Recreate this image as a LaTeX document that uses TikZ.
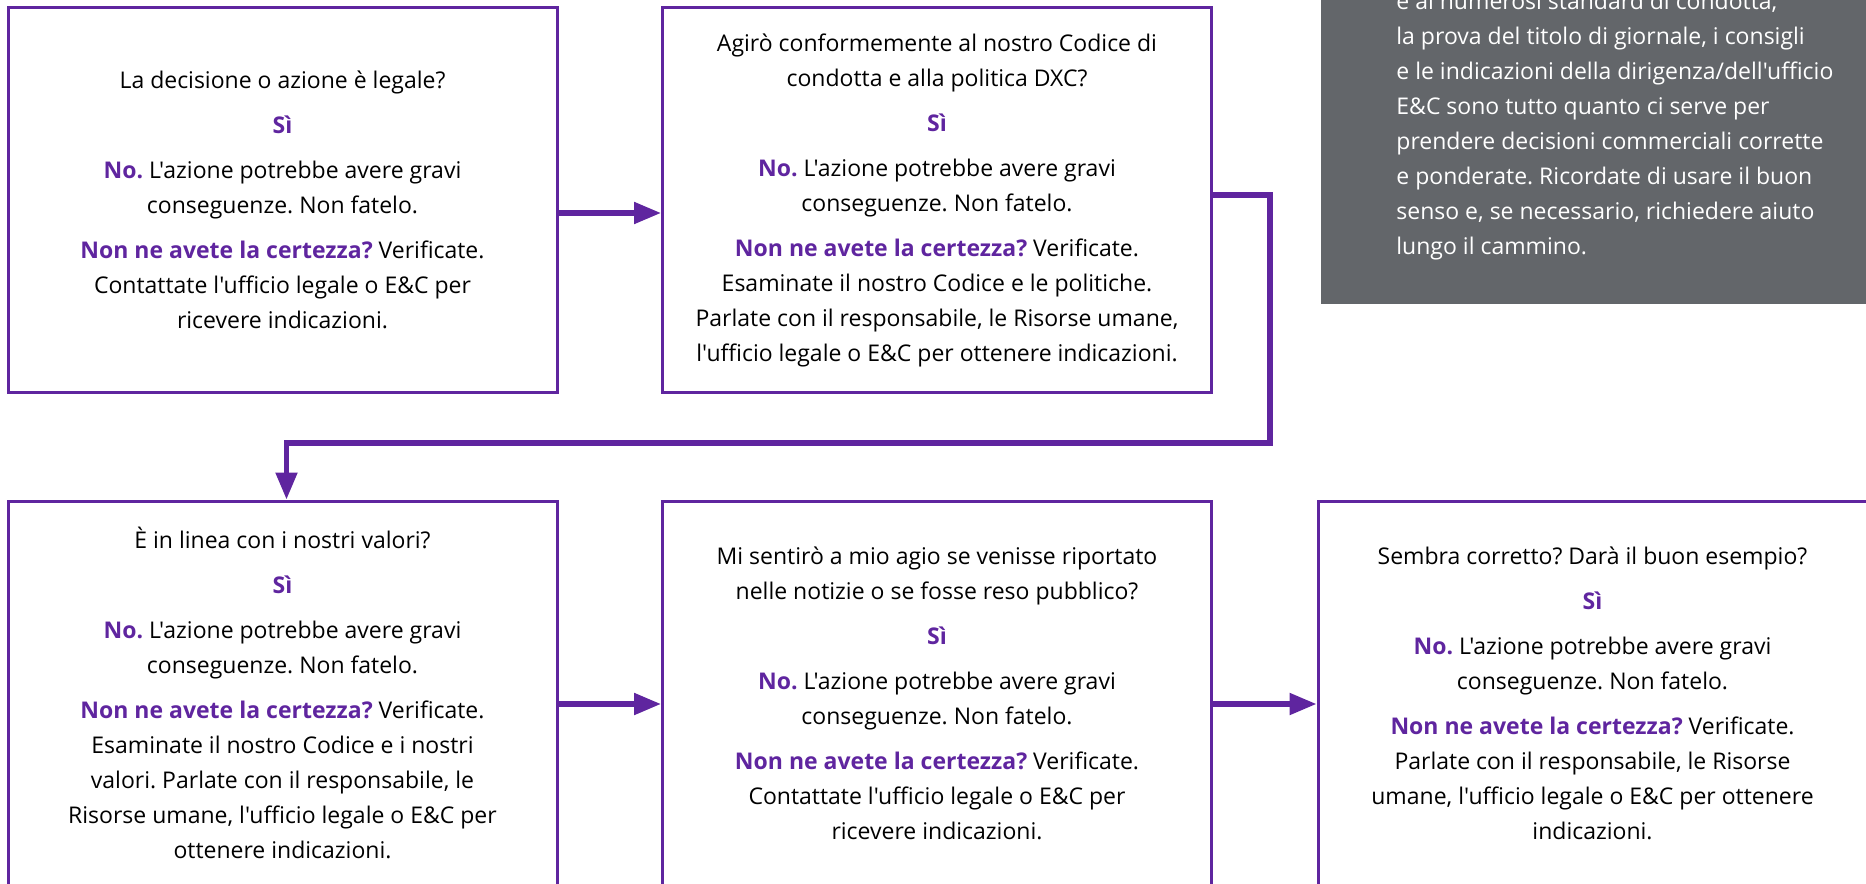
\documentclass[tikz,border=0pt]{standalone}
\usepackage{fontspec}
\setmainfont{Open Sans}[Ligatures=TeXOff]
\usetikzlibrary{arrows.meta,calc}

\definecolor{dxcpurple}{RGB}{95,37,159}
\definecolor{notegrey}{RGB}{99,102,106}
\newcommand{\hl}[1]{{\bfseries\color{dxcpurple}#1}}
\frenchspacing

\begin{document}
\begin{tikzpicture}[x=0.5pt,y=0.5pt,yscale=-1,
  qbox/.style={draw=dxcpurple, line width=1.5pt, minimum width=274.5pt, minimum height=192pt,
    align=center, inner sep=0pt, font=\fontsize{11.5pt}{17.5pt}\selectfont, text=black},
  flow/.style={draw=dxcpurple, line width=2.6pt, -{Triangle[length=13.5pt,width=10.5pt]}},
  notetxt/.style={anchor=base west, inner sep=0pt, align=left, text=white,
    font=\fontsize{11.5pt}{17.5pt}\selectfont}]
\useasboundingbox (0,0) rectangle (1866,883);
\clip (0,0) rectangle (1866,883);

%Shape: Rectangle
\fill[notegrey] (1321,-60) rectangle (1900,304);
% Text Node (anchored at its last line)
\node[notetxt] (note) at (1396,254) {e ai numerosi standard di condotta,\\
la prova del titolo di giornale, i consigli\\
e le indicazioni della dirigenza/dell'ufficio\\
E\&C sono tutto quanto ci serve per\\
prendere decisioni commerciali corrette\\
e ponderate. Ricordate di usare il buon\\
senso e, se necessario, richiedere aiuto\\
lungo il cammino.};

% Question boxes
\node[qbox] (b1) at (282.5,200) {La decisione o azione è legale?\\[5pt]
\hl{Sì}\\[5pt]
\hl{No.} L'azione potrebbe avere gravi\\ conseguenze. Non fatelo.\\[5pt]
\hl{Non ne avete la certezza?} Verificate.\\ Contattate l'ufficio legale o E\&C per\\ ricevere indicazioni.};
\node[qbox] (b2) at (937,200) {Agirò conformemente al nostro Codice di\\ condotta e alla politica DXC?\\[5pt]
\hl{Sì}\\[5pt]
\hl{No.} L'azione potrebbe avere gravi\\ conseguenze. Non fatelo.\\[5pt]
\hl{Non ne avete la certezza?} Verificate.\\ Esaminate il nostro Codice e le politiche.\\ Parlate con il responsabile, le Risorse umane,\\ l'ufficio legale o E\&C per ottenere indicazioni.};
\node[qbox] (b3) at (282.5,693) {È in linea con i nostri valori?\\[5pt]
\hl{Sì}\\[5pt]
\hl{No.} L'azione potrebbe avere gravi\\ conseguenze. Non fatelo.\\[5pt]
\hl{Non ne avete la certezza?} Verificate.\\ Esaminate il nostro Codice e i nostri\\ valori. Parlate con il responsabile, le\\ Risorse umane, l'ufficio legale o E\&C per\\ ottenere indicazioni.};
\node[qbox] (b4) at (937,693) {Mi sentirò a mio agio se venisse riportato\\ nelle notizie o se fosse reso pubblico?\\[5pt]
\hl{Sì}\\[5pt]
\hl{No.} L'azione potrebbe avere gravi\\ conseguenze. Non fatelo.\\[5pt]
\hl{Non ne avete la certezza?} Verificate.\\ Contattate l'ufficio legale o E\&C per\\ ricevere indicazioni.};
\node[qbox] (b5) at (1592.5,693) {Sembra corretto? Darà il buon esempio?\\[5pt]
\hl{Sì}\\[5pt]
\hl{No.} L'azione potrebbe avere gravi\\ conseguenze. Non fatelo.\\[5pt]
\hl{Non ne avete la certezza?} Verificate.\\ Parlate con il responsabile, le Risorse\\ umane, l'ufficio legale o E\&C per ottenere\\ indicazioni.};

% Connectors
\coordinate (bend) at (1270,443);
\draw[flow] ($(b1.east)+(0,13)$) -- ($(b2.west)+(0,13)$);
\draw[flow] ($(b2.east)+(0,-5)$) -| (bend) -| ($(b3.north)+(4,0)$);
\draw[flow] ($(b3.east)+(0,11)$) -- ($(b4.west)+(0,11)$);
\draw[flow] ($(b4.east)+(0,11)$) -- ($(b5.west)+(0,11)$);
\end{tikzpicture}
\end{document}
